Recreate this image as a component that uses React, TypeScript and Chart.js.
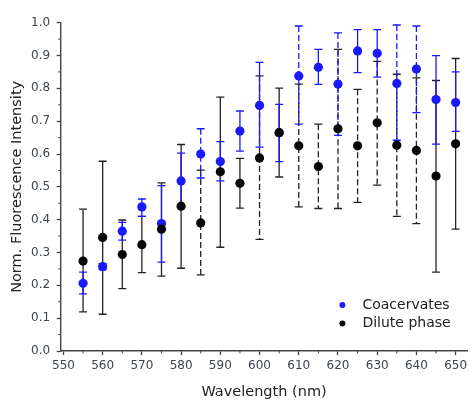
import React, { useEffect, useRef } from "react";
import { Chart, registerables } from "chart.js";

Chart.register(...registerables);

const wavelengths = [555, 560, 565, 570, 575, 580, 585, 590, 595, 600, 605, 610, 615, 620, 625, 630, 635, 640, 645, 650];

const coacervates = [0.206, 0.257, 0.365, 0.439, 0.388, 0.518, 0.600, 0.577, 0.670, 0.748, 0.665, 0.838, 0.864, 0.813, 0.914, 0.907, 0.815, 0.859, 0.766, 0.757];
const coacervatesLow = [0.174, 0.248, 0.338, 0.410, 0.271, 0.441, 0.527, 0.518, 0.609, 0.621, 0.577, 0.691, 0.812, 0.657, 0.848, 0.834, 0.642, 0.726, 0.630, 0.669];
const coacervatesHigh = [0.240, 0.266, 0.392, 0.463, 0.504, 0.603, 0.677, 0.638, 0.731, 0.879, 0.751, 0.990, 0.919, 0.969, 0.979, 0.979, 0.993, 0.990, 0.900, 0.850];

const dilute = [0.274, 0.346, 0.294, 0.324, 0.371, 0.441, 0.390, 0.546, 0.511, 0.588, 0.665, 0.625, 0.562, 0.677, 0.625, 0.695, 0.627, 0.611, 0.533, 0.631];
const diluteLow = [0.119, 0.112, 0.190, 0.239, 0.228, 0.252, 0.232, 0.316, 0.435, 0.340, 0.530, 0.439, 0.434, 0.434, 0.453, 0.505, 0.410, 0.388, 0.240, 0.371];
const diluteHigh = [0.432, 0.578, 0.399, 0.410, 0.512, 0.629, 0.551, 0.773, 0.587, 0.838, 0.801, 0.813, 0.691, 0.919, 0.797, 0.882, 0.843, 0.832, 0.824, 0.891];

const xMajorTicks = [550, 560, 570, 580, 590, 600, 610, 620, 630, 640, 650];
const xMinorTicks = [555, 565, 575, 585, 595, 605, 615, 625, 635, 645];
const yMajorTicks = [0, 0.1, 0.2, 0.3, 0.4, 0.5, 0.6, 0.7, 0.8, 0.9, 1.0];
const yMinorTicks = [0.05, 0.15, 0.25, 0.35, 0.45, 0.55, 0.65, 0.75, 0.85, 0.95];

const seriesNames = ["Coacervates", "Dilute phase"];
const xTitle = "Wavelength (nm)";
const yTitle = "Norm. Fluorescence Intensity";

// wavelengths whose error bars are drawn dashed in the original
const dashedCoac = new Set([585, 610, 620, 635, 640]);
const dashedDilute = new Set([585, 600, 610, 615, 620, 625, 630, 635, 640]);

const BLUE = "rgb(25,25,250)";
const BLACK = "#050505";
const AXIS = "#444";
const FONT = "'DejaVu Sans', 'Liberation Sans', Arial, sans-serif";

const errorBarPlugin = {
  id: "errorBars",
  beforeDatasetsDraw(chart: any) {
    const { ctx } = chart;
    const x = chart.scales.x;
    const y = chart.scales.y;
    const draw = (lo: number[], hi: number[], color: string, dashed: Set<number>) => {
      wavelengths.forEach((w, i) => {
        const px = x.getPixelForValue(w);
        const yt = y.getPixelForValue(hi[i]);
        const yb = y.getPixelForValue(lo[i]);
        ctx.save();
        ctx.strokeStyle = color;
        ctx.lineWidth = 1.3;
        ctx.setLineDash(dashed.has(w) ? [6, 3] : []);
        ctx.beginPath();
        ctx.moveTo(px, yt);
        ctx.lineTo(px, yb);
        ctx.stroke();
        ctx.setLineDash([]);
        ctx.beginPath();
        ctx.moveTo(px - 4, yt);
        ctx.lineTo(px + 4, yt);
        ctx.moveTo(px - 4, yb);
        ctx.lineTo(px + 4, yb);
        ctx.stroke();
        ctx.restore();
      });
    };
    draw(diluteLow, diluteHigh, "#222", dashedDilute);
    draw(coacervatesLow, coacervatesHigh, BLUE, dashedCoac);
  },
};

const minorTickPlugin = {
  id: "minorTicks",
  afterDraw(chart: any) {
    const { ctx, chartArea } = chart;
    const x = chart.scales.x;
    const y = chart.scales.y;
    ctx.save();
    ctx.strokeStyle = AXIS;
    ctx.lineWidth = 1;
    ctx.beginPath();
    xMinorTicks.forEach((v) => {
      const px = x.getPixelForValue(v);
      ctx.moveTo(px, chartArea.bottom);
      ctx.lineTo(px, chartArea.bottom + 2.5);
    });
    yMinorTicks.forEach((v) => {
      const py = y.getPixelForValue(v);
      ctx.moveTo(chartArea.left, py);
      ctx.lineTo(chartArea.left - 2.5, py);
    });
    ctx.stroke();
    ctx.restore();
  },
};

const legendPlugin = {
  id: "innerLegend",
  afterDraw(chart: any) {
    const { ctx, chartArea } = chart;
    const items = [
      { label: seriesNames[0], color: BLUE },
      { label: seriesNames[1], color: BLACK },
    ];
    const x0 = chartArea.right - 125;
    const y0 = chartArea.bottom - 46;
    ctx.save();
    ctx.font = `14px ${FONT}`;
    ctx.textBaseline = "middle";
    ctx.textAlign = "left";
    items.forEach((it, i) => {
      const cy = y0 + i * 18.5;
      ctx.fillStyle = it.color;
      ctx.beginPath();
      ctx.arc(x0, cy, 3, 0, Math.PI * 2);
      ctx.fill();
      ctx.fillStyle = "#222";
      ctx.fillText(it.label, x0 + 20, cy);
    });
    ctx.restore();
  },
};

export default function App() {
  const canvasRef = useRef<HTMLCanvasElement | null>(null);

  useEffect(() => {
    document.body.style.margin = "0";
    const canvas = canvasRef.current;
    if (!canvas) return;
    const chart = new Chart(canvas, {
      type: "scatter",
      data: {
        datasets: [
          {
            label: seriesNames[0],
            data: wavelengths.map((w, i) => ({ x: w, y: coacervates[i] })),
            backgroundColor: BLUE,
            borderColor: BLUE,
            borderWidth: 0,
            pointRadius: 4.6,
            order: 1,
          },
          {
            label: seriesNames[1],
            data: wavelengths.map((w, i) => ({ x: w, y: dilute[i] })),
            backgroundColor: BLACK,
            borderColor: BLACK,
            borderWidth: 0,
            pointRadius: 4.6,
            order: 0,
          },
        ],
      },
      options: {
        responsive: false,
        animation: false,
        events: [],
        layout: { padding: { top: 22.7, right: 2, left: 0, bottom: 0 } },
        plugins: {
          legend: { display: false },
          tooltip: { enabled: false },
        },
        scales: {
          x: {
            type: "linear",
            min: 549.3,
            max: 653,
            afterBuildTicks: (s: any) => {
              s.ticks = xMajorTicks.map((v) => ({ value: v }));
            },
            afterFit: (s: any) => {
              s.height = 50;
            },
            ticks: {
              autoSkip: false,
              maxRotation: 0,
              padding: 4,
              color: "#3c4450",
              font: { family: FONT, size: 12 },
              callback: (v: any) => String(v),
            },
            grid: {
              drawOnChartArea: false,
              drawTicks: true,
              tickLength: 4,
              tickColor: AXIS,
              tickWidth: 1.3,
            },
            border: { display: true, color: AXIS, width: 1.4 },
            title: {
              display: true,
              text: xTitle,
              color: "#222",
              font: { family: FONT, size: 14.5 },
              padding: { top: 0, bottom: 0 },
            },
          },
          y: {
            type: "linear",
            min: 0,
            max: 1,
            afterBuildTicks: (s: any) => {
              s.ticks = yMajorTicks.map((v) => ({ value: v }));
            },
            afterFit: (s: any) => {
              s.width = 60.7;
            },
            ticks: {
              autoSkip: false,
              padding: 6.5,
              color: "#3c4450",
              font: { family: FONT, size: 12 },
              callback: (v: any) => Number(v).toFixed(1),
            },
            grid: {
              drawOnChartArea: false,
              drawTicks: true,
              tickLength: 4,
              tickColor: AXIS,
              tickWidth: 1.3,
            },
            border: { display: true, color: AXIS, width: 1.4 },
            title: {
              display: true,
              text: yTitle,
              color: "#222",
              font: { family: FONT, size: 14.5 },
              padding: { top: 8.3, bottom: 0 },
            },
          },
        },
      },
      plugins: [errorBarPlugin, minorTickPlugin, legendPlugin],
    });
    return () => chart.destroy();
  }, []);

  return (
    <div style={{ position: "absolute", left: 0, top: 0, width: 472, height: 401, background: "#fff" }}>
      <canvas ref={canvasRef} width={472} height={401} style={{ width: 472, height: 401, display: "block" }} />
    </div>
  );
}
